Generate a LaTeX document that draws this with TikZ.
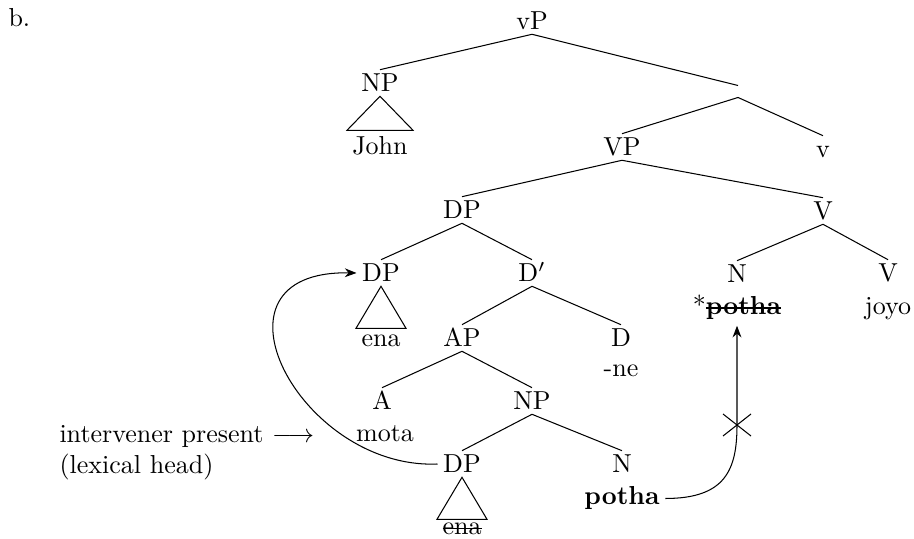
\documentclass[tikz,border=0pt]{standalone}
\usetikzlibrary{arrows.meta}
\newcommand\strk[2][0.4pt]{\setbox0\hbox{#2}\leavevmode\rlap{\copy0}\rule[0.55ex]{\wd0}{#1}}
\begin{document}
\begin{tikzpicture}[x=0.3846pt, y=-0.3846pt, line width=0.4pt,
  lab/.style={inner xsep=2pt, inner ysep=1.5pt, text height=6.83pt, text depth=0pt},
  term/.style={anchor=base, inner sep=2pt},
  tri/.style={line width=0.4pt},
  mv/.style={-{Stealth[length=4.5pt,width=3.4pt]}}]
\useasboundingbox (0,0) rectangle (914,539);
\node[anchor=base west, inner sep=0] (b) at (8,27) {b.};
% category labels
\node[lab] (vP) at (532,21) {vP};
\node[lab] (NP1) at (380,83) {NP};
\node[inner sep=0, minimum height=4.2pt, minimum width=2pt] (bar) at (738,91.5) {};
\node[lab] (VP) at (622,147) {VP};
\node[lab] (v) at (823,149) {v};
\node[lab] (DP1) at (462,210) {DP};
\node[lab] (V1) at (823,211) {V};
\node[lab] (DP2) at (381,273) {DP};
\node[lab] (Dbar) at (532,273) {D$'$};
\node[lab] (N1) at (737,274) {N};
\node[lab] (V2) at (888,273) {V};
\node[lab] (AP) at (462,338) {AP};
\node[lab] (D) at (621,338) {D};
\node[lab] (A) at (382,401) {A};
\node[lab] (NP2) at (532,401) {NP};
\node[lab] (DP3) at (462,464) {DP};
\node[lab] (N2) at (622,464) {N};
% terminals
\node[term] (john) at (380,155) {John};
\node[term] (ena1) at (381,347) {ena};
\node[term] (ne) at (621,377) {-ne};
\node[term] (mota) at (385,442) {mota};
\node[term] (star) at (737,315) {*\textbf{\strk[0.7pt]{potha}}};
\node[term] (joyo) at (888,315) {joyo};
\node[term] (pb) at (622,505) {\textbf{potha}};
\node[term] (ena2) at (462,535) {\strk{ena}};
\node[anchor=base west, align=left, inner sep=0] (note) at (59,474) {intervener present $\longrightarrow$\\(lexical head)};
% edges
\draw (vP.south) -- (NP1.north);
\draw (vP.south) -- (bar.north);
\draw (bar.south) -- (VP.north);
\draw (bar.south) -- (v.north);
\draw (VP.south) -- (DP1.north);
\draw (VP.south) -- (V1.north);
\draw (DP1.south) -- (DP2.north);
\draw (DP1.south) -- (Dbar.north);
\draw (V1.south) -- (N1.north);
\draw (V1.south) -- (V2.north);
\draw (Dbar.south) -- (AP.north);
\draw (Dbar.south) -- (D.north);
\draw (AP.south) -- (A.north);
\draw (AP.south) -- (NP2.north);
\draw (NP2.south) -- (DP3.north);
\draw (NP2.south) -- (N2.north);
% triangles
\draw[tri] (NP1.south) -- ++(-33,34) -- ++(66,0) -- cycle;
\draw[tri] (DP2.south) -- ++(-25,42) -- ++(50,0) -- cycle;
\draw[tri] (DP3.south) -- ++(-25,42) -- ++(50,0) -- cycle;
% movement arrows
\draw[mv] (DP3.west) .. controls (300,470) and (195,270) .. (DP2.west);
\coordinate (xmark) at (737,425);
\draw[mv] (pb.east) .. controls +(60,0) and +(0,45) .. (xmark) -- (star.south);
\draw (xmark) ++(-14,-11) -- ++(28,22);
\draw (xmark) ++(-14,11) -- ++(28,-22);
\end{tikzpicture}
\end{document}
